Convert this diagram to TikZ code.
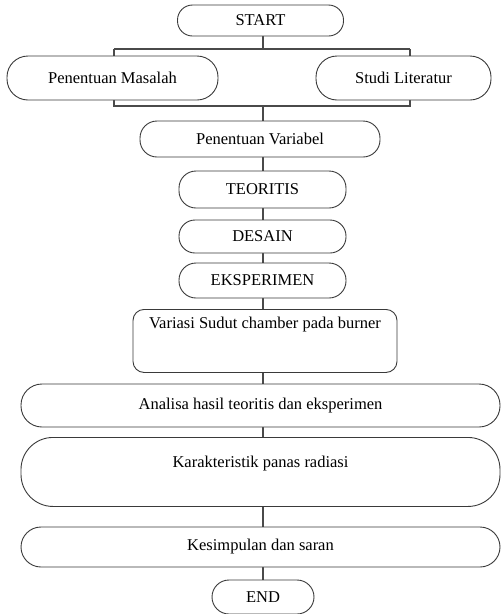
\documentclass[tikz,border=0pt]{standalone}
\usepackage{fontspec}
\setmainfont{Liberation Serif}
\usetikzlibrary{backgrounds}
\definecolor{boxline}{HTML}{3A3A3A}
\definecolor{conline}{HTML}{4A4A4A}
\tikzset{
  box/.style={draw=boxline, line width=0.9pt, fill=white, rectangle, inner sep=0pt,
    font=\fontsize{16.5}{19}\selectfont, text=black},
  con/.style={draw=conline, line width=1.1pt}
}
\begin{document}
\begin{tikzpicture}[x=1pt,y=-1pt]
\useasboundingbox (0,0) rectangle (501,614);
% boxes
\node[box, rounded corners=15pt, minimum width=166pt, minimum height=31pt] (start) at (260.5,20.5) {START};
\node[box, rounded corners=21pt, minimum width=211pt, minimum height=44pt] (pm) at (112.5,78) {Penentuan Masalah};
\node[box, rounded corners=21pt, minimum width=175pt, minimum height=44pt] (sl) at (403.5,78) {Studi Literatur};
\node[box, rounded corners=17pt, minimum width=240pt, minimum height=36pt] (pv) at (260,139) {Penentuan Variabel};
\node[box, rounded corners=17pt, minimum width=167pt, minimum height=37pt] (teo) at (262.5,189.5) {TEORITIS};
\node[box, rounded corners=16pt, minimum width=167pt, minimum height=33pt] (des) at (262.5,236.5) {DESAIN};
\node[box, rounded corners=17pt, minimum width=167pt, minimum height=35pt] (eks) at (262.5,280.5) {EKSPERIMEN};
\node[box, rounded corners=11pt, minimum width=264pt, text height=19pt, text depth=44pt, anchor=north] (var) at (265,309) {Variasi Sudut chamber pada burner};
\node[box, rounded corners=21pt, minimum width=479pt, minimum height=43pt] (ana) at (260.5,405.5) {Analisa hasil teoritis dan eksperimen};
\node[box, rounded corners=32pt, minimum width=479pt, text height=30pt, text depth=39pt, anchor=north] (kar) at (260.5,437) {Karakteristik panas radiasi};
\node[box, rounded corners=20pt, minimum width=479pt, minimum height=40pt] (kes) at (260.5,547) {Kesimpulan dan saran};
\node[box, rounded corners=17pt, minimum width=102pt, minimum height=34pt] (end) at (263,597) {END};
% junction points
\coordinate (j1) at (263,49);
\coordinate (j1l) at (114,49);
\coordinate (j1r) at (410,49);
\coordinate (j2) at (263,106);
\coordinate (j2l) at (114,106);
\coordinate (j2r) at (410,106);
\begin{scope}[on background layer]
\draw[con] (j1 |- start.south) -- (j1);
\draw[con] (j1l) -- (j1r);
\draw[con] (j1l) -- (j2l) -- (j2r) -- (j1r);
\draw[con] (j2) -- (j2 |- pv.north);
\draw[con] (j2 |- pv.south) -- (j2 |- teo.north);
\draw[con] (j2 |- teo.south) -- (j2 |- des.north);
\draw[con] (j2 |- des.south) -- (j2 |- eks.north);
\draw[con] (j2 |- eks.south) -- (j2 |- var.north);
\draw[con] (j2 |- var.south) -- (j2 |- ana.north);
\draw[con] (j2 |- ana.south) -- (j2 |- kar.north);
\draw[con] (j2 |- kar.south) -- (j2 |- kes.north);
\draw[con] (j2 |- kes.south) -- (j2 |- end.north);
\end{scope}
\end{tikzpicture}
\end{document}
